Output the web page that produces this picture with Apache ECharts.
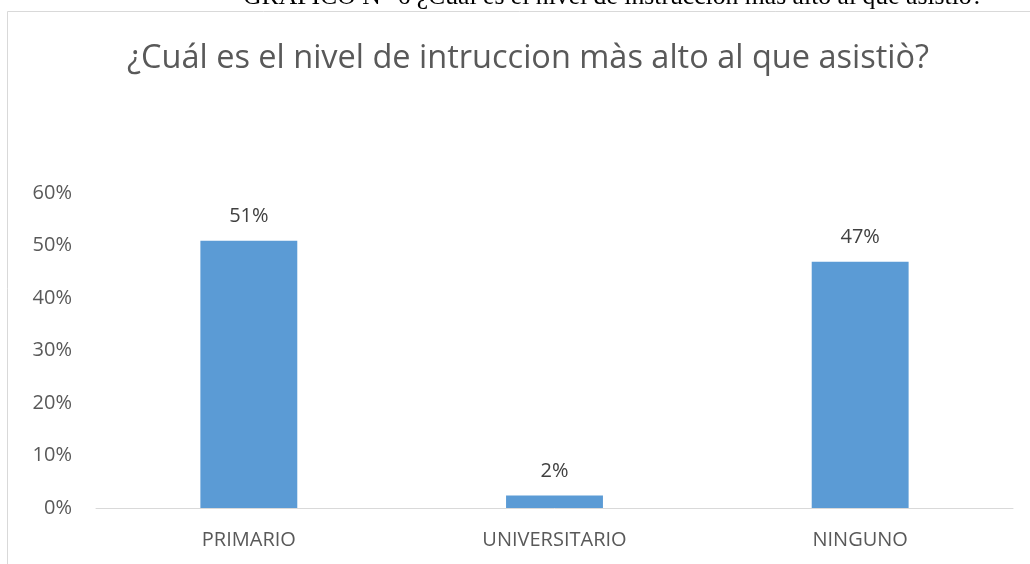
<!DOCTYPE html>
<html><head><meta charset="utf-8">
<script src="https://cdn.jsdelivr.net/npm/echarts@6/dist/echarts.min.js"></script>
<style>html,body{margin:0;padding:0;background:#fff}#c{width:1030px;height:564px}</style>
</head><body><div id="c"></div>
<script>
const categories = ['PRIMARIO', 'UNIVERSITARIO', 'NINGUNO'];
const values = [0.509, 0.024, 0.469];
const yTicks = [0, 0.1, 0.2, 0.3, 0.4, 0.5, 0.6];
const titleText = '¿Cuál es el nivel de intruccion màs alto al que asistiò?';
const captionText = 'GRAFICO N° 6 ¿Cuál es el nivel de instrucción más alto al que asistió?';

const chart = echarts.init(document.getElementById('c'), null, {renderer: 'canvas'});
chart.setOption({
  animation: false,
  backgroundColor: '#fff',
  title: {
    text: titleText, left: 122, top: 37,
    textStyle: {fontFamily: 'Open Sans', fontSize: 32.5, fontWeight: 'normal', color: '#595959'}
  },
  graphic: [
    {type: 'rect', shape: {x: 7.5, y: 11.5, width: 1040, height: 600}, style: {fill: 'none', stroke: '#d9d9d9', lineWidth: 1}, z: -1},
    {type: 'text', left: 243, top: -16, style: {text: captionText, font: '25.7px "Liberation Serif"', fill: '#000'}}
  ],
  grid: {left: 96, right: 17, top: 193, bottom: 56, containLabel: false},
  xAxis: {
    type: 'category', data: categories,
    axisLine: {lineStyle: {color: '#d9d9d9', width: 1}},
    axisTick: {show: false},
    axisLabel: {color: '#595959', fontFamily: 'Open Sans', fontSize: 20, margin: 22}
  },
  yAxis: {
    type: 'value', min: yTicks[0], max: yTicks[yTicks.length - 1], interval: 0.1,
    splitLine: {show: false}, axisLine: {show: false}, axisTick: {show: false},
    axisLabel: {color: '#595959', fontFamily: 'Open Sans', fontSize: 20, margin: 24,
      formatter: v => Math.round(v * 100) + '%'}
  },
  series: [{
    type: 'bar', data: values, barWidth: '31.7%',
    itemStyle: {color: '#5b9bd5'},
    label: {show: true, position: 'top', distance: 14, color: '#404040', fontFamily: 'Open Sans', fontSize: 20,
      formatter: p => Math.round(p.value * 100) + '%'}
  }]
});
</script></body></html>
